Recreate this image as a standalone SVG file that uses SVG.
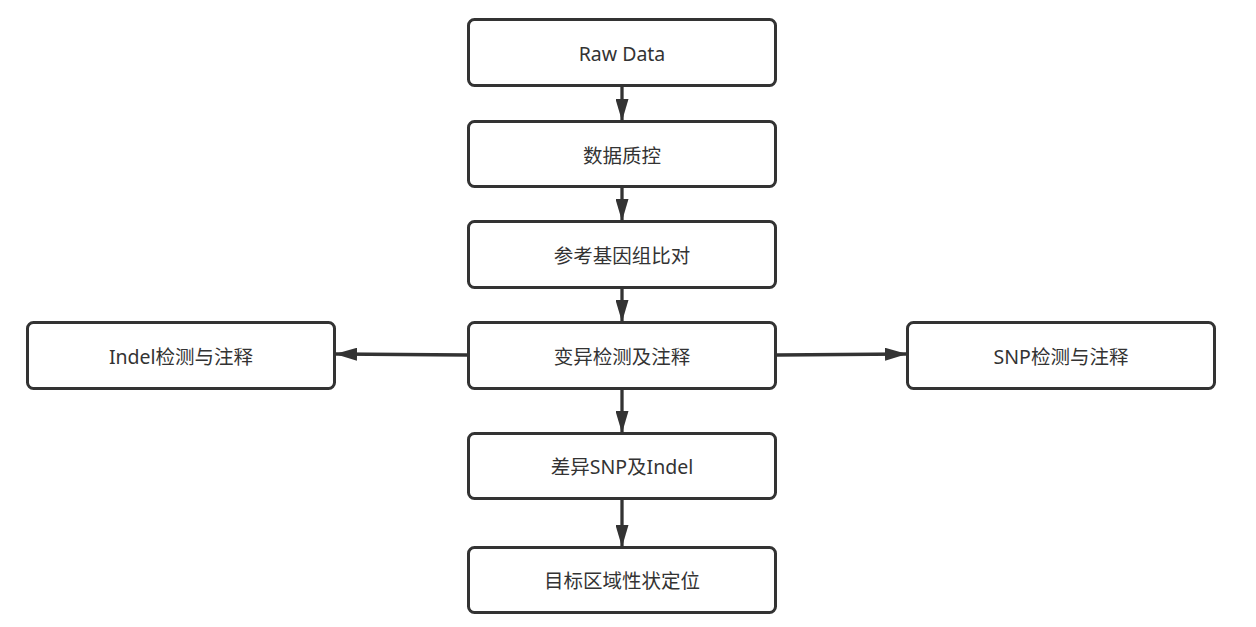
<svg xmlns="http://www.w3.org/2000/svg" width="1256" height="627" viewBox="0 0 1256 627">
<defs>
<style>
.box{fill:#fff;stroke:#333;stroke-width:3}
.lbl{font-family:"Noto Sans","Noto Sans CJK SC",sans-serif;font-size:19.5px;fill:#333;text-anchor:middle;dominant-baseline:central}
.con{stroke:#333;stroke-width:3.3;fill:none}
</style>
<marker id="ah" viewBox="0 0 22 13" refX="21" refY="6.5" markerWidth="22" markerHeight="13" markerUnits="userSpaceOnUse" orient="auto">
<path d="M0,0 L22,6.5 L0,13 Z" fill="#333"/>
</marker>
</defs>
<rect width="1256" height="627" fill="#fff"/>
<g id="connectors">
<line class="con" x1="622" y1="86" x2="622" y2="120" marker-end="url(#ah)"/>
<line class="con" x1="622" y1="187" x2="622" y2="220" marker-end="url(#ah)"/>
<line class="con" x1="622" y1="288" x2="622" y2="321" marker-end="url(#ah)"/>
<line class="con" x1="622" y1="389" x2="622" y2="432" marker-end="url(#ah)"/>
<line class="con" x1="622" y1="499" x2="622" y2="546" marker-end="url(#ah)"/>
<line class="con" x1="467" y1="355" x2="336" y2="354" marker-end="url(#ah)"/>
<line class="con" x1="777" y1="355" x2="906" y2="354" marker-end="url(#ah)"/>
</g>
<g id="n1"><rect class="box" x="468.5" y="19.5" width="307" height="66" rx="6"/><text class="lbl" x="622" y="53">Raw Data</text></g>
<g id="n2"><rect class="box" x="468.5" y="121.5" width="307" height="65" rx="6"/><text class="lbl" x="622" y="155">数据质控</text></g>
<g id="n3"><rect class="box" x="468.5" y="221.5" width="307" height="66" rx="6"/><text class="lbl" x="622" y="255">参考基因组比对</text></g>
<g id="n4"><rect class="box" x="468.5" y="322.5" width="307" height="66" rx="6"/><text class="lbl" x="622" y="356">变异检测及注释</text></g>
<g id="n5"><rect class="box" x="27.5" y="322.5" width="307" height="66" rx="6"/><text class="lbl" x="181" y="356">Indel检测与注释</text></g>
<g id="n6"><rect class="box" x="907.5" y="322.5" width="307" height="66" rx="6"/><text class="lbl" x="1061" y="356">SNP检测与注释</text></g>
<g id="n7"><rect class="box" x="468.5" y="433.5" width="307" height="65" rx="6"/><text class="lbl" x="622" y="466">差异SNP及Indel</text></g>
<g id="n8"><rect class="box" x="468.5" y="547.5" width="307" height="65" rx="6"/><text class="lbl" x="622" y="580">目标区域性状定位</text></g>
</svg>
